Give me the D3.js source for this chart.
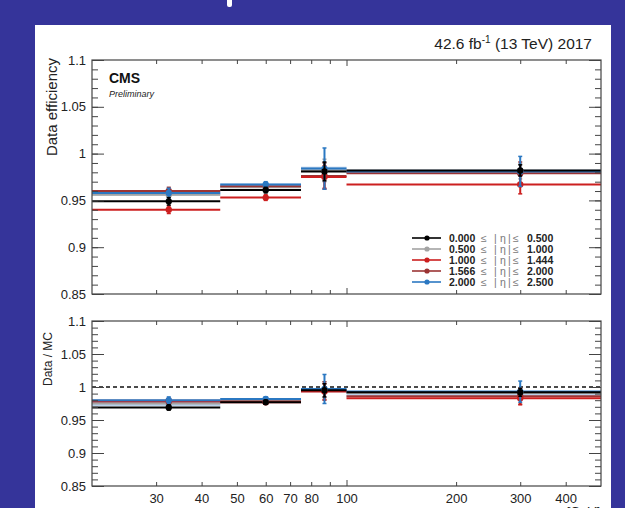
<!DOCTYPE html>
<html>
<head>
<meta charset="utf-8">
<script src="https://cdn.jsdelivr.net/npm/d3@7"></script>
<style>
  html, body { margin: 0; padding: 0; background: #35349a; }
  svg { display: block; font-family: 'Liberation Sans', Arial, sans-serif; }
</style>
</head>
<body>
<script>
// MARK: data

const binEdges = [20, 45, 75, 100, 500]
const ptMean   = [32.5, 60, 87, 300]

const etaLo    = ['0.000', '0.500', '1.000', '1.566', '2.000']
const etaHi    = ['0.500', '1.000', '1.444', '2.000', '2.500']
const colors   = ['#000000', '#a3a3a3', '#cc1f1f', '#9b3434', '#2b78c2']

// data efficiency per eta bin (rows) and pt bin (cols)
const effVals = [
  [0.949, 0.961, 0.981, 0.982],
  [0.956, 0.964, 0.982, 0.981],
  [0.940, 0.953, 0.975, 0.967],
  [0.960, 0.965, 0.976, 0.979],
  [0.958, 0.967, 0.984, 0.981],
]
const effErrs = [
  [0.004, 0.003, 0.010, 0.006],
  [0.004, 0.003, 0.012, 0.008],
  [0.004, 0.003, 0.012, 0.010],
  [0.004, 0.003, 0.014, 0.012],
  [0.005, 0.003, 0.022, 0.016],
]
const effBandLo = [0.955, 0.964, 0.981, 0.979]
const effBandHi = [0.961, 0.968, 0.986, 0.983]

// data / MC scale factors
const sfVals = [
  [0.969, 0.977, 0.995, 0.992],
  [0.975, 0.979, 0.996, 0.991],
  [0.979, 0.977, 0.993, 0.983],
  [0.978, 0.978, 0.994, 0.986],
  [0.980, 0.982, 0.997, 0.993],
]
const sfErrs = [
  [0.004, 0.003, 0.010, 0.006],
  [0.004, 0.003, 0.012, 0.008],
  [0.004, 0.003, 0.012, 0.010],
  [0.004, 0.003, 0.014, 0.012],
  [0.005, 0.003, 0.022, 0.016],
]
const sfBandLo = [0.971, 0.977, 0.992, 0.985]
const sfBandHi = [0.980, 0.983, 0.998, 0.994]

const yTicks   = [0.85, 0.9, 0.95, 1, 1.05, 1.1]
const xLabels  = [30, 40, 50, 60, 70, 80, 100, 200, 300, 400]
const xMinor   = [30, 40, 50, 60, 70, 80, 90, 200, 300, 400]

// MARK: layout

const W = 625, H = 508
const LEFT = 92, RIGHT = 601
const AXIS_COLOR = '#444'
const drawOrder = [1, 3, 2, 4, 0]

const svg = d3.select('body').append('svg').attr('width', W).attr('height', H)
svg.append('rect').attr('width', W).attr('height', H).attr('fill', '#35349a')
svg.append('rect').attr('x', 227).attr('y', -4).attr('width', 5).attr('height', 11)
  .attr('rx', 2).attr('fill', '#fff')
svg.append('rect').attr('x', 35).attr('y', 25).attr('width', 576).attr('height', 490)
  .attr('fill', '#fff')

const x = d3.scaleLog().domain([20, 500]).range([LEFT, RIGHT])
const yTop = d3.scaleLinear().domain([0.85, 1.1]).range([294, 60])
const yBot = d3.scaleLinear().domain([0.85, 1.1]).range([486, 321])

const fmt = (v) => String(+v.toFixed(2))

function drawFrame(y, showX) {
  const [y0, y1] = y.range()
  const g = svg.append('g')
  const minor = d3.range(0.85, 1.1001, 0.01).map((v) => +v.toFixed(2))

  g.append('g').attr('transform', `translate(${LEFT},0)`)
    .call(d3.axisLeft(y).tickValues(minor).tickSize(-6).tickFormat(''))
  g.append('g').attr('transform', `translate(${LEFT},0)`)
    .call(d3.axisLeft(y).tickValues(yTicks).tickSize(-12).tickPadding(6).tickFormat(fmt))
  g.append('g').attr('transform', `translate(${RIGHT},0)`)
    .call(d3.axisRight(y).tickValues(minor).tickSize(-6).tickFormat(''))
  g.append('g').attr('transform', `translate(${RIGHT},0)`)
    .call(d3.axisRight(y).tickValues(yTicks).tickSize(-12).tickFormat(''))

  g.append('g').attr('transform', `translate(0,${y0})`)
    .call(d3.axisBottom(x).tickValues(xMinor).tickSize(-4).tickFormat(''))
  g.append('g').attr('transform', `translate(0,${y0})`)
    .call(d3.axisBottom(x).tickValues([100]).tickSize(-6).tickFormat(''))
  g.append('g').attr('transform', `translate(0,${y1})`)
    .call(d3.axisTop(x).tickValues(xMinor).tickSize(-4).tickFormat(''))
  g.append('g').attr('transform', `translate(0,${y1})`)
    .call(d3.axisTop(x).tickValues([100]).tickSize(-6).tickFormat(''))

  if (showX) {
    g.append('g').attr('transform', `translate(0,${y0})`)
      .call(d3.axisBottom(x).tickValues(xLabels).tickSize(0).tickPadding(8).tickFormat(d3.format('d')))
  }

  g.selectAll('.domain').remove()
  g.selectAll('line').attr('stroke', AXIS_COLOR)
  g.selectAll('text').attr('font-size', 13).attr('fill', '#222')
    .attr('font-family', "'Liberation Sans', Arial, sans-serif")

  g.append('rect').attr('x', LEFT).attr('y', y1)
    .attr('width', RIGHT - LEFT).attr('height', y0 - y1)
    .attr('fill', 'none').attr('stroke', AXIS_COLOR).attr('stroke-width', 1.2)
  return g
}

function drawSeries(y, vals, errs, bandLo, bandHi) {
  const g = svg.append('g')
  const bins = d3.range(binEdges.length - 1)

  // light band for the last eta bin
  g.selectAll('rect.band').data(bins).enter().append('rect')
    .attr('x', (i) => x(binEdges[i]))
    .attr('width', (i) => x(binEdges[i + 1]) - x(binEdges[i]))
    .attr('y', (i) => y(bandHi[i]))
    .attr('height', (i) => y(bandLo[i]) - y(bandHi[i]))
    .attr('fill', '#a9c6e6').attr('fill-opacity', 0.8)

  drawOrder.forEach((s) => {
    const sg = g.append('g')
    sg.selectAll('line.h').data(bins).enter().append('line')
      .attr('x1', (i) => x(binEdges[i])).attr('x2', (i) => x(binEdges[i + 1]))
      .attr('y1', (i) => y(vals[s][i])).attr('y2', (i) => y(vals[s][i]))
      .attr('stroke', colors[s]).attr('stroke-width', 2)
  })
  drawOrder.forEach((s) => {
    const sg = g.append('g')
    const eb = sg.selectAll('g.err').data(bins).enter().append('g')
    eb.append('line')
      .attr('x1', (i) => x(ptMean[i])).attr('x2', (i) => x(ptMean[i]))
      .attr('y1', (i) => y(vals[s][i] - errs[s][i])).attr('y2', (i) => y(vals[s][i] + errs[s][i]))
      .attr('stroke', colors[s]).attr('stroke-width', 2)
    ;[-1, 1].forEach((sign) => {
      eb.append('line')
        .attr('x1', (i) => x(ptMean[i]) - 2).attr('x2', (i) => x(ptMean[i]) + 2)
        .attr('y1', (i) => y(vals[s][i] + sign * errs[s][i]))
        .attr('y2', (i) => y(vals[s][i] + sign * errs[s][i]))
        .attr('stroke', colors[s]).attr('stroke-width', 1.5)
    })
    eb.append('circle')
      .attr('cx', (i) => x(ptMean[i])).attr('cy', (i) => y(vals[s][i]))
      .attr('r', 3.2).attr('fill', colors[s])
  })
}

// MARK: top panel

drawSeries(yTop, effVals, effErrs, effBandLo, effBandHi)
drawFrame(yTop, false)

svg.append('text').attr('x', 592).attr('y', 49).attr('text-anchor', 'end')
  .attr('font-size', 15.5).attr('fill', '#222')
  .html('42.6 fb<tspan dy="-6" font-size="10">-1</tspan><tspan dy="6"> (13 TeV) 2017</tspan>')
svg.append('text').attr('x', 109).attr('y', 83).attr('font-size', 14)
  .attr('font-weight', 'bold').attr('fill', '#111').text('CMS')
svg.append('text').attr('x', 109).attr('y', 97).attr('font-size', 9)
  .attr('font-style', 'italic').attr('fill', '#222').text('Preliminary')
svg.append('text').attr('transform', 'translate(57,58) rotate(-90)')
  .attr('text-anchor', 'end').attr('font-size', 15).attr('fill', '#222').text('Data efficiency')

// legend: each piece of the row gets its own x, like the ROOT latex layout
const legendParts = [
  { dx: 0,  bold: true },
  { dx: 32, text: '≤' },
  { dx: 45, text: '|' },
  { dx: 51, text: 'η' },
  { dx: 59, text: '|' },
  { dx: 64, text: '≤' },
  { dx: 78, bold: true },
]
const legend = svg.append('g')
etaLo.forEach((lo, i) => {
  const ly = 238 + i * 11
  legend.append('line').attr('x1', 412).attr('x2', 441).attr('y1', ly).attr('y2', ly)
    .attr('stroke', colors[i]).attr('stroke-width', 1.6)
  legend.append('circle').attr('cx', 427).attr('cy', ly).attr('r', 2.6).attr('fill', colors[i])
  legendParts.forEach((p, k) => {
    legend.append('text').attr('x', 449 + p.dx).attr('y', ly + 3.8)
      .attr('font-size', 10.5)
      .attr('font-weight', p.bold ? 'bold' : 'normal')
      .attr('fill', p.bold ? '#222' : '#777')
      .text(p.text || (k === 0 ? lo : etaHi[i]))
  })
})

// MARK: bottom panel

svg.append('line').attr('x1', LEFT).attr('x2', RIGHT).attr('y1', yBot(1)).attr('y2', yBot(1))
  .attr('stroke', '#111').attr('stroke-width', 1.5).attr('stroke-dasharray', '4,3')
drawSeries(yBot, sfVals, sfErrs, sfBandLo, sfBandHi)
drawFrame(yBot, true)

svg.append('text').attr('transform', 'translate(52,386) rotate(-90)')
  .attr('text-anchor', 'start').attr('font-size', 12).attr('fill', '#222').text('Data / MC')
svg.append('text').attr('x', 600).attr('y', 516).attr('text-anchor', 'end')
  .attr('font-size', 13).attr('fill', '#222')
  .html('p<tspan dy="3" font-size="9">T</tspan><tspan dy="-3"> [GeV]</tspan>')
</script>
</body>
</html>
